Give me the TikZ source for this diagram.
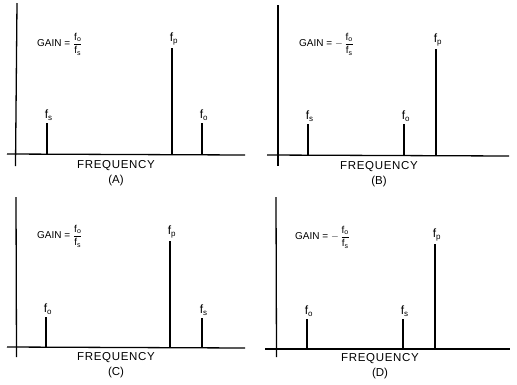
\documentclass[tikz,border=0pt]{standalone}
\usepackage{fontspec}
\setmainfont{Liberation Sans}
\usepackage{amsmath}
\usetikzlibrary{positioning}
\tikzset{
  axis/.style={line width=1.3pt, draw=black},
  stem/.style={line width=1.7pt, draw=black},
  flabel/.style={anchor=south west, inner sep=0pt, xshift=-3pt, yshift=2pt,
                 font=\fontsize{12}{13}\selectfont},
  gain/.style={anchor=west, inner sep=0pt, font=\fontsize{10}{12}\selectfont},
  freq/.style={inner sep=0pt, font=\fontsize{11.5}{13}\selectfont\addfontfeature{LetterSpace=6}},
  tag/.style={inner sep=0pt, font=\fontsize{11.5}{13}\selectfont},
}
\newcommand{\fpos}{$\dfrac{\text{f}_\text{o}}{\text{f}_\text{s}}$}
\begin{document}
\begin{tikzpicture}[x=1pt, y=-1pt, node distance=4pt]
  \useasboundingbox[fill=white] (0,0) rectangle (517,384);

  % (A)
  \draw[axis] (17,3) -- (15.5,166);
  \draw[axis] (7,154) -- (245,155);
  \foreach \x/\h/\s in {47/31/s, 172/106/p, 202/31/o}
    \draw[stem] (\x,154) -- (\x,154-\h) node[flabel] (A-\s) {f\textsubscript{\s}};
  \node[gain] (A-gain) at (37,44) {GAIN = \fpos};
  \node[freq] (A-freq) at (116,166) {FREQUENCY};
  \node[tag, below=of A-freq] (A-tag) {(A)};

  % (B)
  \draw[axis] (278,5) -- (278,166);
  \draw[axis] (267,155) -- (509,156);
  \foreach \x/\h/\s in {308/31/s, 404/31/o, 436/106/p}
    \draw[stem] (\x,155) -- (\x,155-\h) node[flabel] (B-\s) {f\textsubscript{\s}};
  \node[gain] (B-gain) at (299,44) {GAIN = $-$\,\fpos};
  \node[freq] (B-freq) at (379,167) {FREQUENCY};
  \node[tag, below=of B-freq] (B-tag) {(B)};

  % (C)
  \draw[axis] (16,197) -- (16.5,357);
  \draw[axis] (7,347) -- (245,348);
  \foreach \x/\h/\s in {46/30/o, 170/106/p, 202/29/s}
    \draw[stem] (\x,347) -- (\x,347-\h) node[flabel] (C-\s) {f\textsubscript{\s}};
  \node[gain] (C-gain) at (37,236) {GAIN = \fpos};
  \node[freq] (C-freq) at (116,358) {FREQUENCY};
  \node[tag, below=of C-freq] (C-tag) {(C)};

  % (D)
  \draw[axis] (276,197) -- (276.5,357);
  \draw[axis] (265,349) -- (510,349);
  \foreach \x/\h/\s in {307/30/o, 403/30/s, 435/105/p}
    \draw[stem] (\x,349) -- (\x,349-\h) node[flabel] (D-\s) {f\textsubscript{\s}};
  \node[gain] (D-gain) at (295,237) {GAIN = $-$\,\fpos};
  \node[freq] (D-freq) at (380,359) {FREQUENCY};
  \node[tag, below=of D-freq] (D-tag) {(D)};
\end{tikzpicture}
\end{document}
